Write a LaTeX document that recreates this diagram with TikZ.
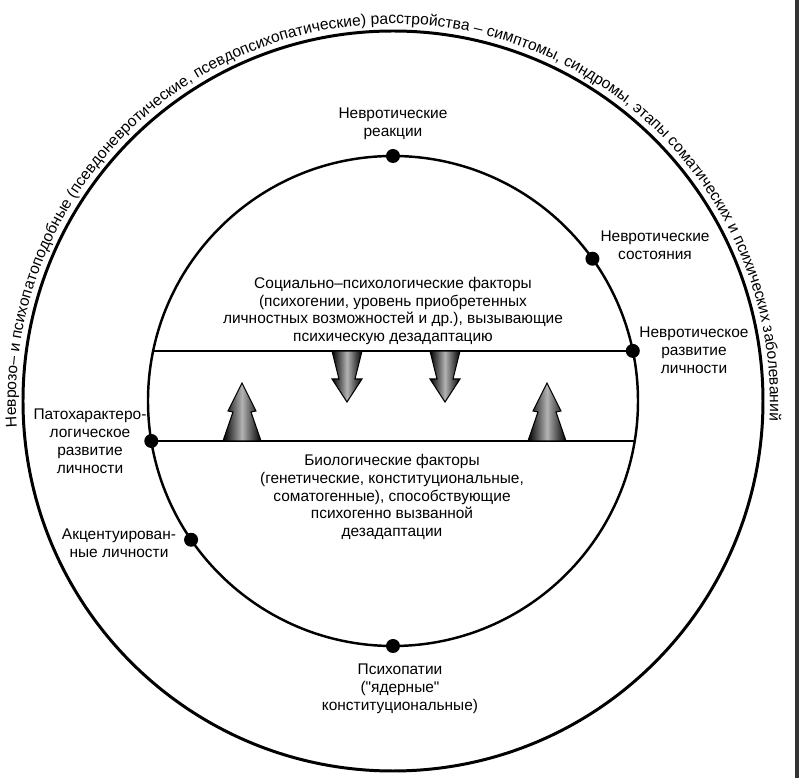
\documentclass[tikz,border=0pt]{standalone}
\usepackage{fontspec}
\setmainfont{Liberation Sans}[Ligatures=TeXOff]
\usepackage{tikz}
\usetikzlibrary{calc,decorations.text}

\begin{document}
\begin{tikzpicture}
                      \tikzstyle{point}=[circle,fill=black,inner sep=0pt,minimum size=0.28cm]
                      \tikzstyle{lbl}=[align=center,inner sep=0pt,font=\fontsize{8.8}{10.2}\selectfont]
                      \tikzstyle{factor}=[draw=black,line width=0.6pt,left color=black,right color=black,middle color=black!30]
                      \useasboundingbox (-7.86,-7.54) rectangle (8.12,8.02);
                      \fill[black!80] (8.04,-7.54) rectangle (8.12,8.02);
                      \node (c) at (0,0) {};
                      \draw[line width=1.7pt] (c.center) circle (7.4);
                      \draw[line width=1.4pt] (c.center) circle (4.9);
                      \path[decorate,decoration={text along path,text align=center,
                        text={|\fontsize{8.9}{10}\selectfont|Неврозо– и психопатоподобные (псевдоневротические, псевдопсихопатические) расстройства – симптомы, синдромы, этапы соматических и психических заболеваний}}]
                        (200:7.54) arc[start angle=200,end angle=-19,radius=7.54];
                      \coordinate (ul) at (168.2:4.9);
                      \coordinate (lr) at (-9.4:4.9);
                      \node[point] (nr) at (90:4.9) {};
                      \node[point] (ns) at (35.5:4.9) {};
                      \node[point] (nd) at (11.8:4.9) {};
                      \node[point] (pd) at (189.4:4.9) {};
                      \node[point] (ac) at (214.5:4.9) {};
                      \node[point] (ps) at (270:4.9) {};
                      \draw[line width=1.1pt] (ul) -- (nd.center);
                      \draw[line width=1.1pt] (pd.center) -- (lr);
                      \foreach \x in {-0.92,1.04}
                        \draw[factor,shift={(\x,1.0)}] (-0.30,0) -- (0.30,0) -- (0.16,-0.56) -- (0.30,-0.56) -- (0,-1.02) -- (-0.30,-0.56) -- (-0.16,-0.56) -- cycle;
                      \foreach \x in {-3.02,3.08}
                        \draw[factor,shift={(\x,-0.8)}] (-0.38,0) -- (0.38,0) -- (0.18,0.58) -- (0.28,0.60) -- (0,1.16) -- (-0.28,0.60) -- (-0.18,0.58) -- cycle;
                      \node[lbl] (tnr) at (0,5.54) {Невротические\\реакции};
                      \node[lbl] (tns) at (5.24,3.12) {Невротические\\состояния};
                      \node[lbl] (tnd) at (6.02,1.02) {Невротическое\\развитие\\личности};
                      \node[lbl] (tpd) at (-6.06,-0.80) {Патохарактеро-\\логическое\\развитие\\личности};
                      \node[lbl] (tac) at (-5.48,-2.84) {Акцентуирован-\\ные личности};
                      \node[lbl] (tps) at (0.14,-5.76) {Психопатии\\("ядерные"\\конституциональные)};
                      \node[lbl] (soc) at (0,1.80) {Социально–психологические факторы\\(психогении, уровень приобретенных\\личностных возможностей и др.), вызывающие\\психическую дезадаптацию};
                      \node[lbl] (bio) at (-0.02,-1.92) {Биологические факторы\\(генетические, конституциональные,\\соматогенные), способствующие\\психогенно вызванной\\дезадаптации};
                  \end{tikzpicture}
\end{document}
